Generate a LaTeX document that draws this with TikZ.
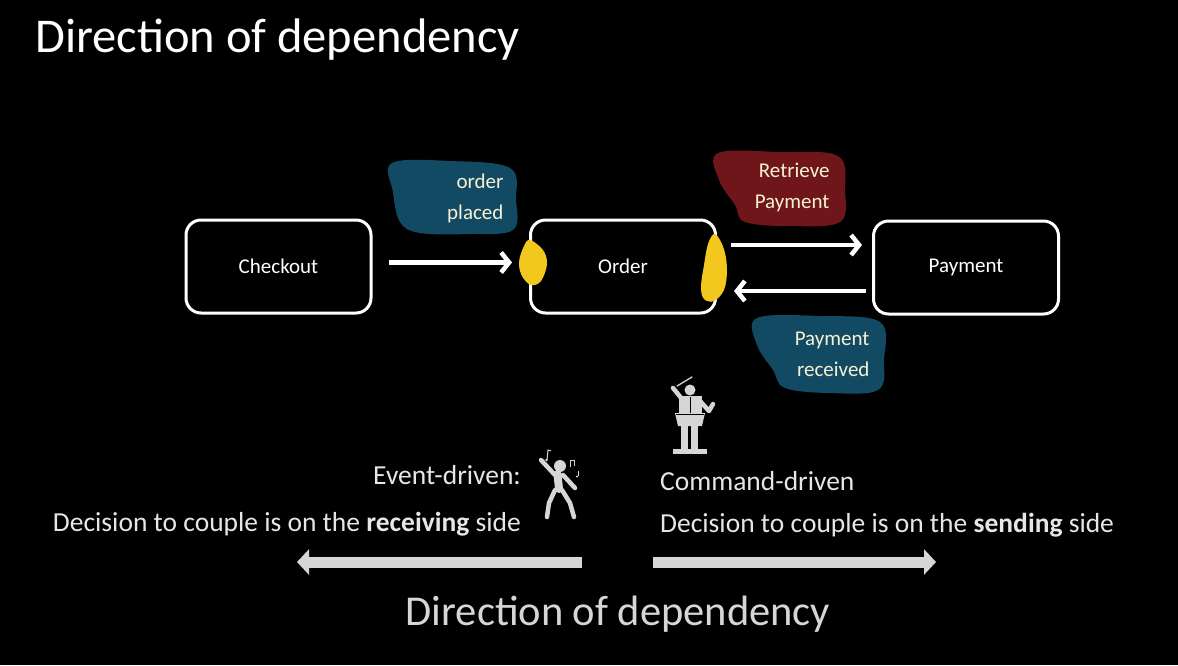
\documentclass[tikz,border=0pt]{standalone}
\usepackage{fontspec}
\setmainfont{Carlito}
\usetikzlibrary{arrows.meta}
\definecolor{teal}{HTML}{134A63}
\definecolor{wine}{HTML}{6E1619}
\definecolor{sun}{HTML}{F2C81E}
\definecolor{cream}{HTML}{F6F1D6}
\definecolor{lgray}{HTML}{E6E6E6}
\definecolor{mgray}{HTML}{D6D6D6}
\tikzset{
  box/.style={draw=white, line width=3pt, rounded corners=15pt, minimum width=185pt, minimum height=93pt, text=white, font=\fontsize{21}{24}\selectfont},
  flow/.style={draw=white, line width=4.5pt, -{Straight Barb[length=8pt,width=20pt,line width=4.5pt]}},
  notetext/.style={align=right, text=cream, anchor=east, font=\fontsize{21}{31}\selectfont},
  blob/.style={smooth cycle, tension=0.6},
  bigarrow/.style={draw=mgray, line width=11pt, -{Triangle[length=12pt,width=25pt]}},
  caption/.style={text=lgray, font=\fontsize{27.5}{32}\selectfont, inner sep=0pt},
  icon/.style={fill=mgray, draw=none},
  limb/.style={draw=mgray, line width=4.5pt, line cap=round, line join=round}
}
\begin{document}
\begin{tikzpicture}[x=1pt,y=-1pt]
\fill[black] (0,0) rectangle (1178,665);
\useasboundingbox (0,0) rectangle (1178,665);

% title
\node[anchor=base west, text=white, inner sep=0pt, font=\fontsize{48.5}{56}\selectfont] (title) at (35,52) {Direction of dependency};

% sticky notes (blobs)
\fill[teal] plot[blob] coordinates {(392,163) (450,161) (510,168) (516,200) (513,230) (470,234) (420,233) (400,222) (393,192)};
\fill[wine] plot[blob] coordinates {(718,153) (780,152) (838,156) (845,190) (840,222) (790,226) (745,222) (735,205) (719,180)};
\fill[teal] plot[blob] coordinates {(757,318) (820,316) (880,322) (884,360) (878,390) (830,393) (785,388) (773,370) (757,345)};

% boxes
\node[box] (checkout) at (278.5,266.5) {Checkout};
\node[box] (order) at (623,266.5) {Order};
\node[box] (payment) at (966,267.5) {Payment};

% yellow markers on order
\fill[sun] plot[blob] coordinates {(530,240) (543,250) (547,264) (541,281) (531,285) (522,276) (519,262) (524,246)};
\fill[sun] plot[blob] coordinates {(714,234) (720,240) (725,253) (727,271) (724,290) (714,301) (704,299) (701,287) (704,265) (708,244)};

% note texts
\node[notetext] (op) at (507,198) {order\\placed};
\node[notetext] (rp) at (833,187) {Retrieve\\Payment};
\node[notetext] (pr) at (873,354) {Payment\\received};

% flow arrows
\draw[flow, shorten <=16pt, shorten >=17pt] ([yshift=4pt]checkout.east) -- ([yshift=4pt]order.west);
\draw[flow, shorten <=14pt, shorten >=10pt] ([yshift=21.5pt]order.east) -- ([yshift=21.5pt]order.east -| payment.west);
\draw[flow, shorten <=6pt, shorten >=17pt] ([yshift=-24.5pt]order.east -| payment.west) -- ([yshift=-24.5pt]order.east);

% conductor icon
\fill[icon] (690,390) circle (5.5);
\draw[mgray, line width=1.3pt, line cap=round] (677,386) -- (692,377);
\draw[limb] (682,399) -- (673,388);
\draw[limb] (700,401) -- (709,411) -- (713,404);
\fill[icon] (679,396) rectangle (702,414);
\draw[black, line width=1.5pt] (690.5,397) -- (690.5,413);
\fill[icon] (675,413) -- (705,413) -- (702,426) -- (678,426) -- cycle;
\draw[black, line width=1pt] (676,414.5) -- (704,414.5);
\fill[icon] (681,426) rectangle (688,450);
\fill[icon] (691,426) rectangle (698,450);
\fill[icon] (673,449) rectangle (707,453.5);

% dancer icon
\fill[icon] (560,466) circle (6);
\draw[limb] (555,475) -- (541,460);
\draw[limb] (563,475) -- (575,488);
\draw[mgray, line width=8pt, line cap=round] (557.5,474) -- (559,489);
\draw[limb] (555,490) -- (549,503) -- (547,517);
\draw[limb] (562,490) -- (570,503) -- (574,517);
\draw[mgray, line width=1pt] (547,460) -- (548,450) -- (551,451);
\fill[mgray] (546.5,460) circle (1.3);
\draw[mgray, line width=1pt] (570,467) -- (570,460) -- (574,460) -- (574,466);
\draw[mgray, line width=1pt] (578,471) -- (578,476);
\fill[mgray] (577,476.5) circle (1.2);

% captions
\node[caption, anchor=base east] (ev) at (521,484) {Event-driven:};
\node[caption, anchor=base east] (evd) at (521,531) {Decision to couple is on the \textbf{receiving} side};
\node[caption, anchor=base west] (cmd) at (660,490) {Command-driven};
\node[caption, anchor=base west] (cmdd) at (660,532) {Decision to couple is on the \textbf{sending} side};

% direction arrows
\coordinate (lstart) at (582,562);
\coordinate (lend) at (297,562);
\coordinate (rstart) at (653,562);
\coordinate (rend) at (936,562);
\draw[bigarrow] (lstart) -- (lend);
\draw[bigarrow] (rstart) -- (rend);

\node[anchor=base, text=mgray, inner sep=0pt, font=\fontsize{42.5}{50}\selectfont] (dir) at (618,625) {Direction of dependency};
\end{tikzpicture}
\end{document}
